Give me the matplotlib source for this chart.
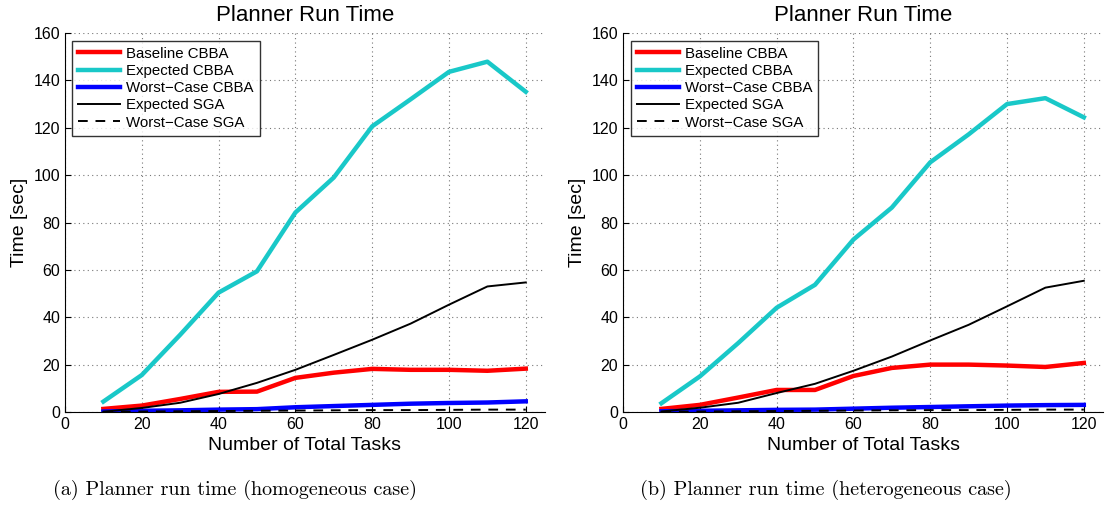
import numpy as np
import matplotlib.pyplot as plt

plt.rcParams['font.family'] = ['Liberation Sans', 'DejaVu Sans']

# Number of tasks
tasks = [10, 20, 30, 40, 50, 60, 70, 80, 90, 100, 110, 120]

# (a) homogeneous case
hom_baseline = [1.3, 2.7, 5.5, 8.5, 8.6, 14.4, 16.6, 18.2, 17.8, 17.8, 17.4, 18.3]
hom_exp_cbba = [4.4, 15.6, 32.6, 50.4, 59.4, 84.2, 99.0, 120.6, 132.0, 143.6, 147.9, 135.2]
hom_wc_cbba = [0.2, 0.5, 0.7, 1.0, 1.2, 2.0, 2.5, 3.0, 3.5, 3.8, 4.0, 4.5]
hom_exp_sga = [0.1, 1.7, 3.9, 7.6, 12.3, 17.8, 24.1, 30.5, 37.3, 45.3, 53.0, 54.7]
hom_wc_sga = [0.1, 0.2, 0.3, 0.4, 0.5, 0.6, 0.7, 0.8, 0.8, 0.9, 1.0, 1.0]

# (b) heterogeneous case
het_baseline = [1.3, 3.0, 6.1, 9.3, 9.3, 15.2, 18.6, 20.0, 20.0, 19.6, 19.0, 20.7]
het_exp_cbba = [3.7, 15.0, 29.1, 44.0, 53.7, 72.8, 86.3, 105.4, 117.2, 130.0, 132.5, 124.4]
het_wc_cbba = [0.3, 0.5, 0.7, 0.9, 1.0, 1.4, 1.8, 2.1, 2.4, 2.7, 2.9, 3.0]
het_exp_sga = [0.2, 1.8, 3.9, 8.0, 11.9, 17.4, 23.4, 30.2, 36.8, 44.6, 52.5, 55.4]
het_wc_sga = [0.1, 0.2, 0.3, 0.4, 0.5, 0.6, 0.7, 0.8, 0.8, 0.9, 1.0, 1.0]

labels = ['Baseline CBBA', 'Expected CBBA', 'Worst\u2212Case CBBA', 'Expected SGA', 'Worst\u2212Case SGA']
captions = ['(a) Planner run time (homogeneous case)', '(b) Planner run time (heterogeneous case)']

fig = plt.figure(figsize=(11.07, 5.08), dpi=100)
ax1 = fig.add_axes([0.0587, 0.189, 0.4336, 0.746])
ax2 = fig.add_axes([0.5628, 0.189, 0.4336, 0.746])

datasets = [
    (hom_baseline, hom_exp_cbba, hom_wc_cbba, hom_exp_sga, hom_wc_sga),
    (het_baseline, het_exp_cbba, het_wc_cbba, het_exp_sga, het_wc_sga),
]

for ax, data in zip([ax1, ax2], datasets):
    base, exp_cbba, wc_cbba, exp_sga, wc_sga = data
    ax.plot(tasks, base, color='#ff0000', lw=3.2, label=labels[0])
    ax.plot(tasks, exp_cbba, color='#19c8c8', lw=3.2, label=labels[1])
    ax.plot(tasks, wc_cbba, color='#0000ff', lw=3.2, label=labels[2])
    ax.plot(tasks, exp_sga, color='black', lw=1.4, label=labels[3])
    ax.plot(tasks, wc_sga, color='black', lw=1.4, ls=(0, (5, 4)), label=labels[4])

    ax.set_xlim(0, 125)
    ax.set_ylim(0, 160)
    ax.set_xticks(np.arange(0, 121, 20))
    ax.set_yticks(np.arange(0, 161, 20))
    ax.grid(True, ls=(0, (1, 3)), color='#777777', lw=0.8)
    for s in ['top', 'right']:
        ax.spines[s].set_visible(False)
    ax.tick_params(direction='in', labelsize=11.5, length=4)
    ax.set_xlabel('Number of Total Tasks', fontsize=14, labelpad=4)
    ax.set_ylabel('Time [sec]', fontsize=14, labelpad=4)
    ax.set_title('Planner Run Time', fontsize=16, pad=9)
    leg = ax.legend(loc='upper left', fontsize=10.8, frameon=True, fancybox=False,
                    edgecolor='black', handlelength=2.8, labelspacing=0.22,
                    borderaxespad=0.5, handletextpad=0.4)
    leg.get_frame().set_linewidth(1.0)

fig.text(235 / 1107, 1 - 490 / 508, captions[0], ha='center', va='center',
         fontsize=14.5, family='cmr10')
fig.text(826 / 1107, 1 - 490 / 508, captions[1], ha='center', va='center',
         fontsize=14.5, family='cmr10')

fig.savefig('out.png', dpi=100)
